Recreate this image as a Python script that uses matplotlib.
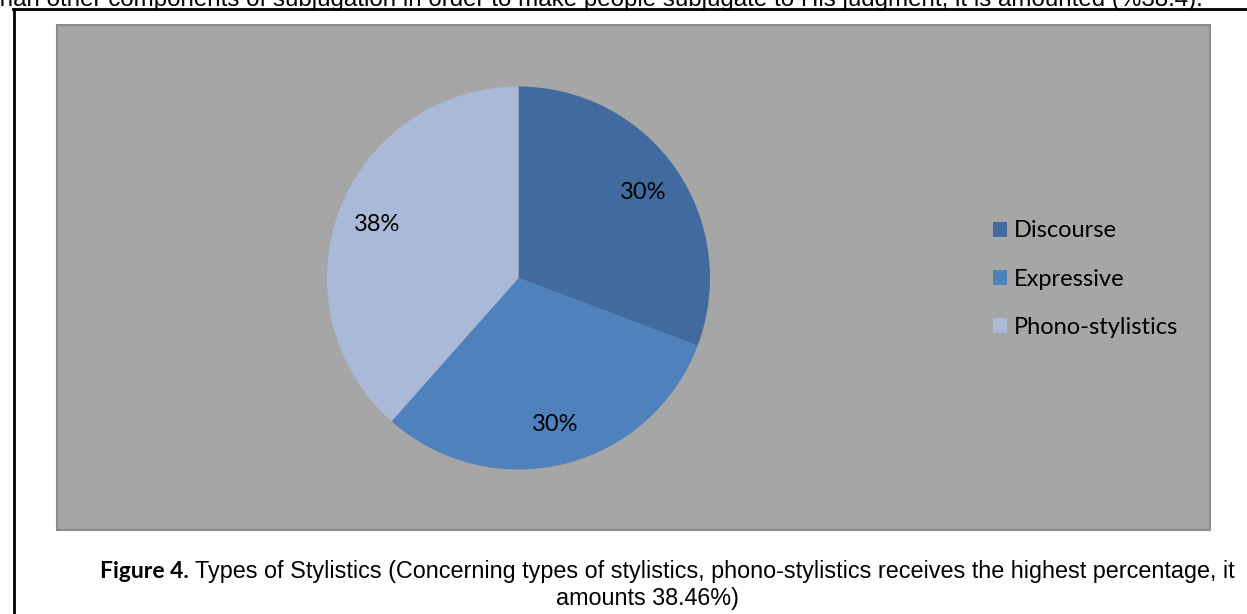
import matplotlib
matplotlib.use("Agg")
import matplotlib.pyplot as plt
from matplotlib.patches import Rectangle
from matplotlib.lines import Line2D

W, H = 1247, 614

labels = ["Discourse", "Expressive", "Phono-stylistics"]
counts = [4, 4, 5]
colors = ["#416B9F", "#4F81BD", "#AAB9D7"]

top_text = ("than other components of subjugation in order to make people subjugate "
            "to His judgment, it is amounted (%38.4).")
cap_bold = "Figure 4."
cap_line1 = ("Types of Stylistics (Concerning types of stylistics, phono-stylistics "
             "receives the highest percentage, it")
cap_line2 = "amounts 38.46%)"


def fx(x):
    return x / W


def fy(y):
    return 1 - y / H


fig = plt.figure(figsize=(W / 100, H / 100), dpi=100)
fig.patch.set_facecolor("white")

# document text cut off at the top
fig.text(fx(-7), fy(6), top_text, fontsize=17.4, family="Liberation Sans",
         va="baseline", ha="left", color="black")

# outer frame
fig.add_artist(Line2D([fx(13), fx(W + 5)], [fy(9), fy(9)], color="black", lw=2))
fig.add_artist(Line2D([fx(14), fx(14)], [fy(9), fy(H + 5)], color="black", lw=2))

# chart area
fig.add_artist(Rectangle((fx(57), fy(530)), fx(1210) - fx(57), fy(25) - fy(530),
                         facecolor="#A6A6A6", edgecolor="#8C8C8C", lw=1.5,
                         zorder=-1))

cx, cy, r = 518.5, 278, 191.5
ax = fig.add_axes([fx(cx - r), fy(cy + r), 2 * r / W, 2 * r / H])
ax.set_zorder(2)
wedges, _, autotexts = ax.pie(
    counts, colors=colors, startangle=90, counterclock=False, radius=1,
    autopct=lambda p: f"{int(p)}%", pctdistance=0.79,
    wedgeprops=dict(edgecolor="none"),
    textprops=dict(fontsize=17, family="Lato", color="black"))
ax.set_xlim(-1, 1)
ax.set_ylim(-1, 1)
ax.set_aspect("auto")
ax.axis("off")

leg = fig.legend(wedges, labels, loc="center left",
                 bbox_to_anchor=(fx(993), fy(279)), frameon=False,
                 prop=dict(family="Lato", size=17),
                 handlelength=0.6, handleheight=0.6, handletextpad=0.3,
                 labelspacing=1.15, borderpad=0, borderaxespad=0)
leg.set_zorder(3)

# caption
fig.canvas.draw()
renderer = fig.canvas.get_renderer()
t_bold = fig.text(fx(100), fy(578), cap_bold, fontsize=16.5, family="Lato",
                  weight="bold", va="baseline", ha="left")
bb = t_bold.get_window_extent(renderer)
x_next = bb.x1 + 6
fig.text(x_next / W, fy(578), cap_line1, fontsize=16.8,
         family="Liberation Sans", va="baseline", ha="left")
fig.text(fx(648), fy(605), cap_line2, fontsize=16.8,
         family="Liberation Sans", va="baseline", ha="center")

fig.savefig("out.png", dpi=100, facecolor="white")
